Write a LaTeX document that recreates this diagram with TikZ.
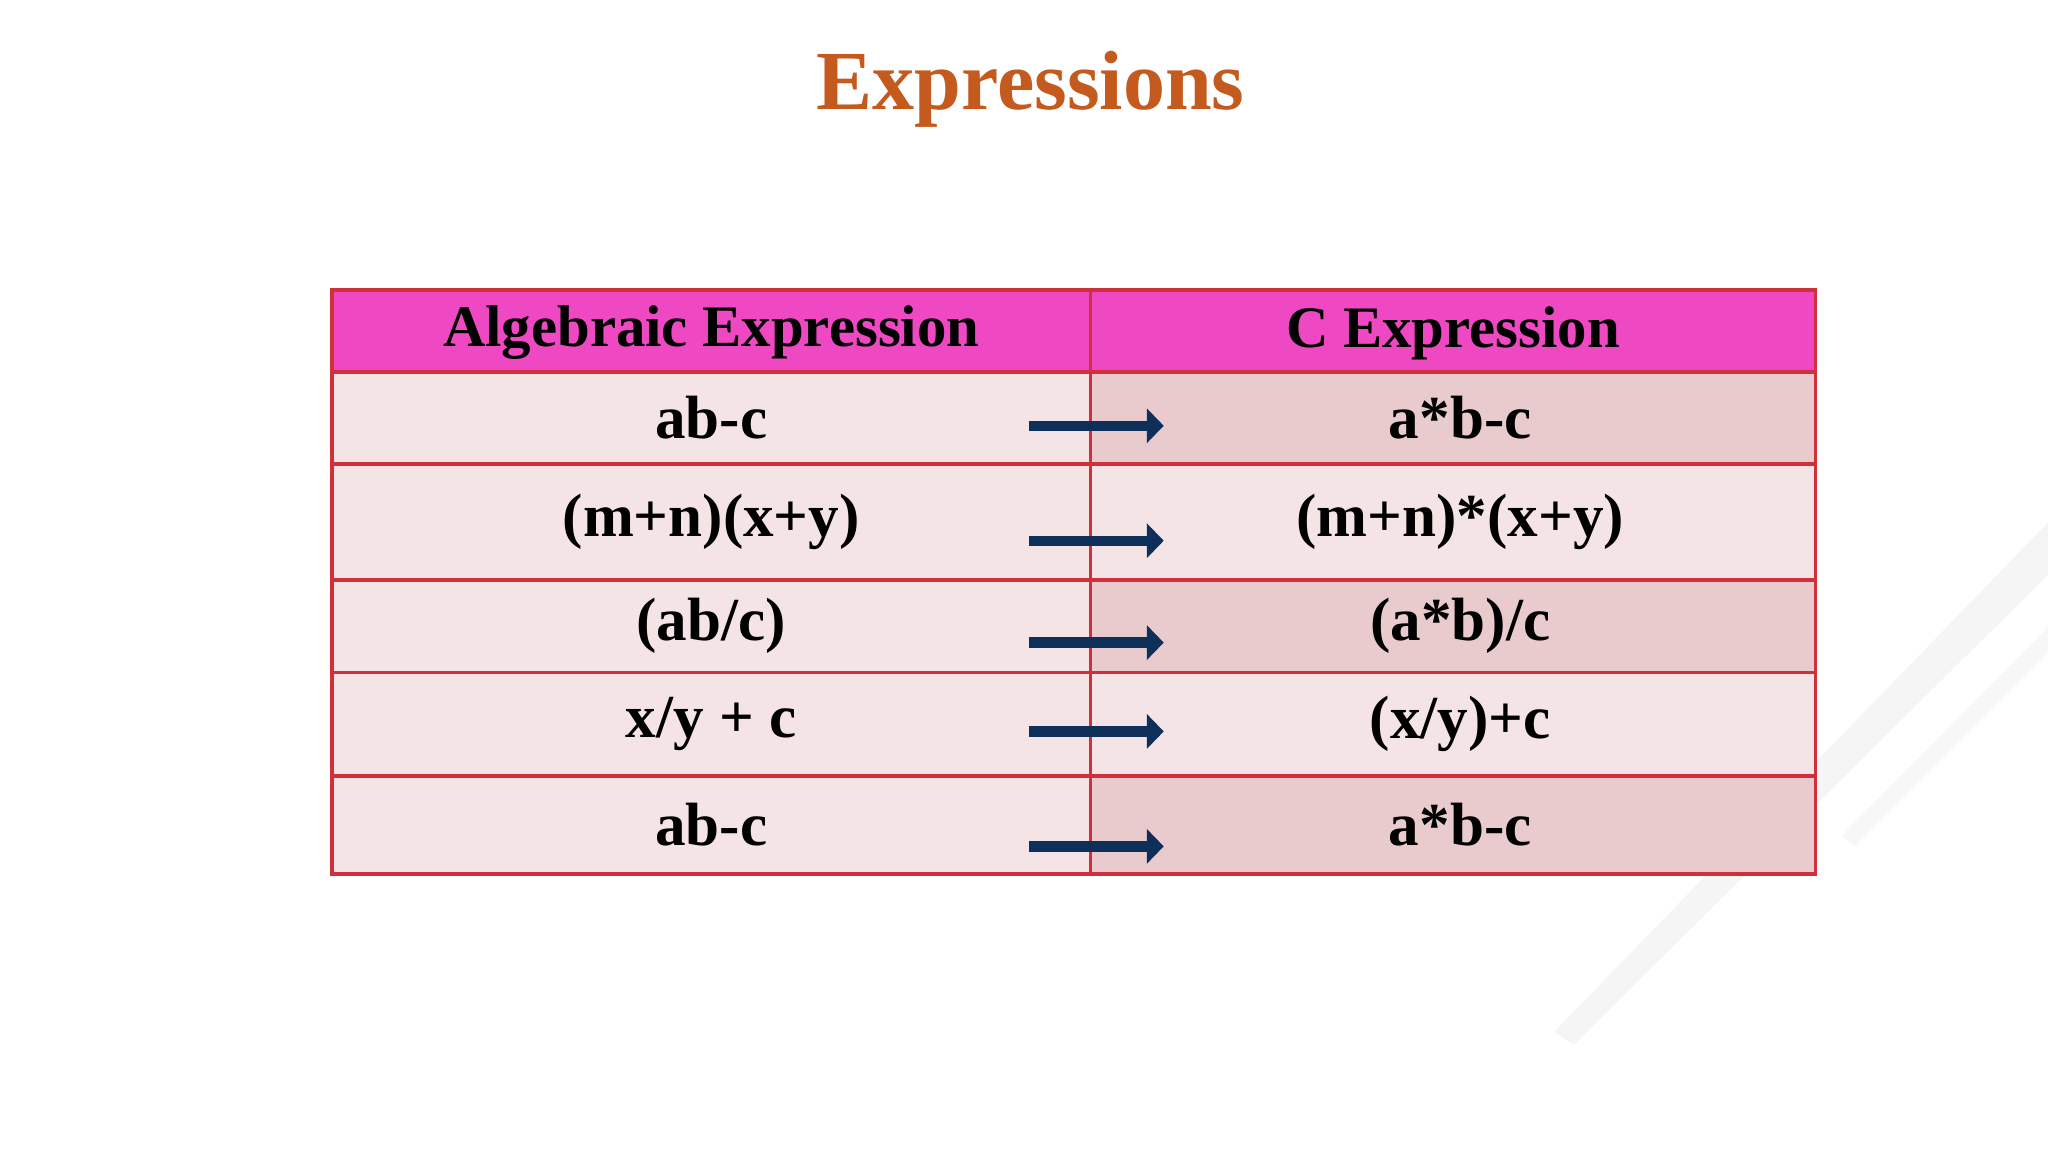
\documentclass[tikz,border=0pt]{standalone}
\usepackage{fontspec}
\setmainfont{Liberation Serif}
\usetikzlibrary{arrows.meta}
\definecolor{ttl}{HTML}{C55A1E}
\definecolor{hdr}{HTML}{EE48C3}
\definecolor{light}{HTML}{F4E4E6}
\definecolor{dark}{HTML}{E9CBCE}
\definecolor{bord}{HTML}{D0303C}
\definecolor{navy}{HTML}{0E2F5A}
\tikzset{
  txt/.style={font=\bfseries\fontsize{13.3}{15}\selectfont},
  conv/.style={navy, line width=0.08cm, -{Triangle[length=0.13cm,width=0.26cm]}}
}
\begin{document}
\begin{tikzpicture}[x=0.01cm,y=-0.01cm]
\useasboundingbox (0,0) rectangle (1568,882);
% decorative streaks
\fill[gray!8] (1190,790) -- (1568,400) -- (1568,440) -- (1205,800) -- cycle;
\fill[gray!6] (1410,640) -- (1568,480) -- (1568,500) -- (1420,648) -- cycle;
\node[font=\bfseries\fontsize{18.3}{20}\selectfont, text=ttl] (title) at (789,68) {Expressions};
% header
\filldraw[fill=hdr, draw=bord, line width=0.8pt] (254,222) rectangle (835,285);
\filldraw[fill=hdr, draw=bord, line width=0.8pt] (835,222) rectangle (1390,285);
\node[font=\bfseries\fontsize{12.8}{15}\selectfont] (h1) at (544.5,255) {Algebraic Expression};
\node[font=\bfseries\fontsize{12.8}{15}\selectfont] (h2) at (1112.5,255) {C Expression};
% rows
\foreach \t/\b/\rc/\l/\r/\ay [count=\i] in {
 285/355/dark/{ab-c}/{a*b-c}/326,
 355/444/light/{(m+n)(x+y)}/{(m+n)*(x+y)}/414,
 444/515/dark/{(ab/c)}/{(a*b)/c}/492,
 515/594/light/{x/y + c}/{(x/y)+c}/560,
 594/669/dark/{ab-c}/{a*b-c}/648}{
  \filldraw[fill=light, draw=bord, line width=0.8pt] (254,\t) rectangle (835,\b);
  \filldraw[fill=\rc, draw=bord, line width=0.8pt] (835,\t) rectangle (1390,\b);
  \node[txt] (l\i) at (544.5,{(\t+\b)/2}) {\l};
  \node[txt] (r\i) at (1118,{(\t+\b)/2}) {\r};
  \coordinate (as\i) at (788,\ay);
  \coordinate (ae\i) at (891,\ay);
  \draw[conv] (as\i) -- (ae\i);
}
\end{tikzpicture}
\end{document}
